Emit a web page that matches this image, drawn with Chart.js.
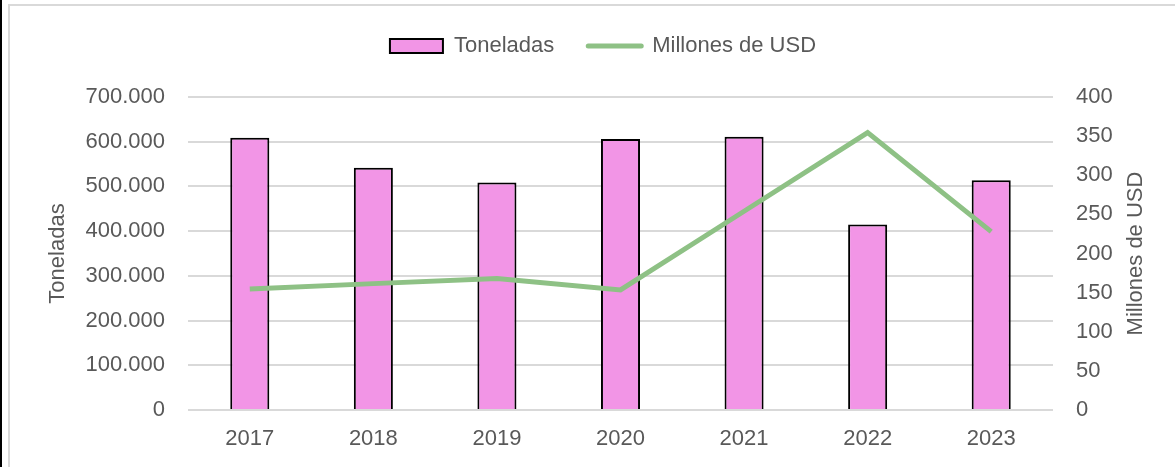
<!DOCTYPE html>
<html>
<head>
<meta charset="utf-8">
<script src="https://cdn.jsdelivr.net/npm/chart.js@4.4.1/dist/chart.umd.min.js"></script>
<style>
  html, body { margin: 0; padding: 0; background: #ffffff; }
  #wrap { position: relative; width: 1175px; height: 467px; overflow: hidden; background: #fff; }
  #blk { position: absolute; left: 0; top: 0; width: 2px; height: 467px; background: #000; }
  #frame { position: absolute; left: 8px; top: 4px; width: 1300px; height: 600px; border-left: 2px solid #d9d9d9; border-top: 2px solid #d9d9d9; }
  canvas { position: absolute; left: 0; top: 0; }
</style>
</head>
<body>
<div id="wrap">
  <div id="blk"></div>
  <div id="frame"></div>
  <canvas id="c" width="1175" height="467"></canvas>
</div>
<script>
const categories = ["2017", "2018", "2019", "2020", "2021", "2022", "2023"];
const toneladas = [609000, 542000, 509000, 606000, 611000, 415000, 514000];
const millonesUSD = [154.5, 161.5, 168, 153.5, 254, 354.5, 228];
const leftTicks = [0, 100000, 200000, 300000, 400000, 500000, 600000, 700000];
const rightTicks = [0, 50, 100, 150, 200, 250, 300, 350, 400];

const PINK = '#F295E6';
const GREEN = '#8EC185';
const TXT = '#595959';
const FONT = "'Liberation Sans', Arial, sans-serif";
const FS = 22;

function fmtThousands(v) {
  return String(Math.round(v)).replace(/\B(?=(\d{3})+(?!\d))/g, '.');
}

const rightTitle = {
  id: 'rightTitle',
  afterDraw(chart) {
    const ctx = chart.ctx;
    const ca = chart.chartArea;
    ctx.save();
    ctx.font = FS + 'px ' + FONT;
    ctx.fillStyle = TXT;
    ctx.textAlign = 'center';
    ctx.textBaseline = 'middle';
    ctx.translate(chart.width - 39, (ca.top + ca.bottom) / 2);
    ctx.rotate(-Math.PI / 2);
    ctx.fillText('Millones de USD', 0, 0);
    ctx.restore();
  }
};

Chart.defaults.font.family = FONT;
Chart.defaults.font.size = FS;
Chart.defaults.color = TXT;

new Chart(document.getElementById('c'), {
  type: 'bar',
  data: {
    labels: categories,
    datasets: [
      {
        type: 'bar',
        label: 'Toneladas',
        data: toneladas,
        backgroundColor: PINK,
        borderColor: '#000000',
        borderWidth: 2,
        borderSkipped: 'bottom',
        barPercentage: 0.316,
        categoryPercentage: 1,
        yAxisID: 'y',
        order: 2
      },
      {
        type: 'line',
        label: 'Millones de USD',
        data: millonesUSD,
        borderColor: GREEN,
        backgroundColor: GREEN,
        borderWidth: 5,
        pointRadius: 0,
        pointHoverRadius: 0,
        tension: 0,
        fill: false,
        yAxisID: 'y1',
        order: 1
      }
    ]
  },
  options: {
    responsive: false,
    animation: false,
    devicePixelRatio: 1,
    layout: { padding: { left: 31, right: 0, top: 1, bottom: 0 } },
    plugins: {
      tooltip: { enabled: false },
      legend: {
        position: 'top',
        labels: {
          usePointStyle: true,
          pointStyleWidth: 53,
          boxHeight: 14,
          padding: 34,
          color: TXT,
          font: { size: FS, family: FONT },
          generateLabels(chart) {
            return [
              { text: 'Toneladas', fillStyle: PINK, strokeStyle: '#000000', lineWidth: 2, pointStyle: 'rect', datasetIndex: 0, fontColor: TXT },
              { text: 'Millones de USD', fillStyle: GREEN, strokeStyle: GREEN, lineWidth: 5, lineCap: 'round', pointStyle: 'line', datasetIndex: 1, fontColor: TXT }
            ];
          }
        }
      }
    },
    scales: {
      x: {
        grid: { display: false, drawTicks: false },
        border: { display: false },
        ticks: { padding: 16, color: TXT, font: { size: FS } },
        afterFit(s) { s.height = 57; }
      },
      xTop: {
        axis: 'x',
        type: 'category',
        position: 'top',
        labels: categories,
        grid: { display: false, drawTicks: false },
        border: { display: false },
        ticks: { display: false },
        afterFit(s) { s.height = 30; }
      },
      y: {
        position: 'left',
        min: 0,
        max: 700000,
        afterBuildTicks(s) { s.ticks = leftTicks.map(v => ({ value: v })); },
        grid: { color: '#d9d9d9', lineWidth: 2, drawTicks: false },
        border: { display: false },
        ticks: { padding: 23, color: TXT, font: { size: FS }, callback: v => fmtThousands(v) },
        title: { display: true, text: 'Toneladas', color: TXT, font: { size: FS }, padding: { top: 14, bottom: 0 } },
        afterFit(s) { s.width = 157; }
      },
      y1: {
        position: 'right',
        min: 0,
        max: 400,
        afterBuildTicks(s) { s.ticks = rightTicks.map(v => ({ value: v })); },
        grid: { drawOnChartArea: false, drawTicks: false },
        border: { display: false },
        ticks: { padding: 23, color: TXT, font: { size: FS } },
        afterFit(s) { s.width = 122; }
      }
    }
  },
  plugins: [rightTitle]
});
</script>
</body>
</html>
